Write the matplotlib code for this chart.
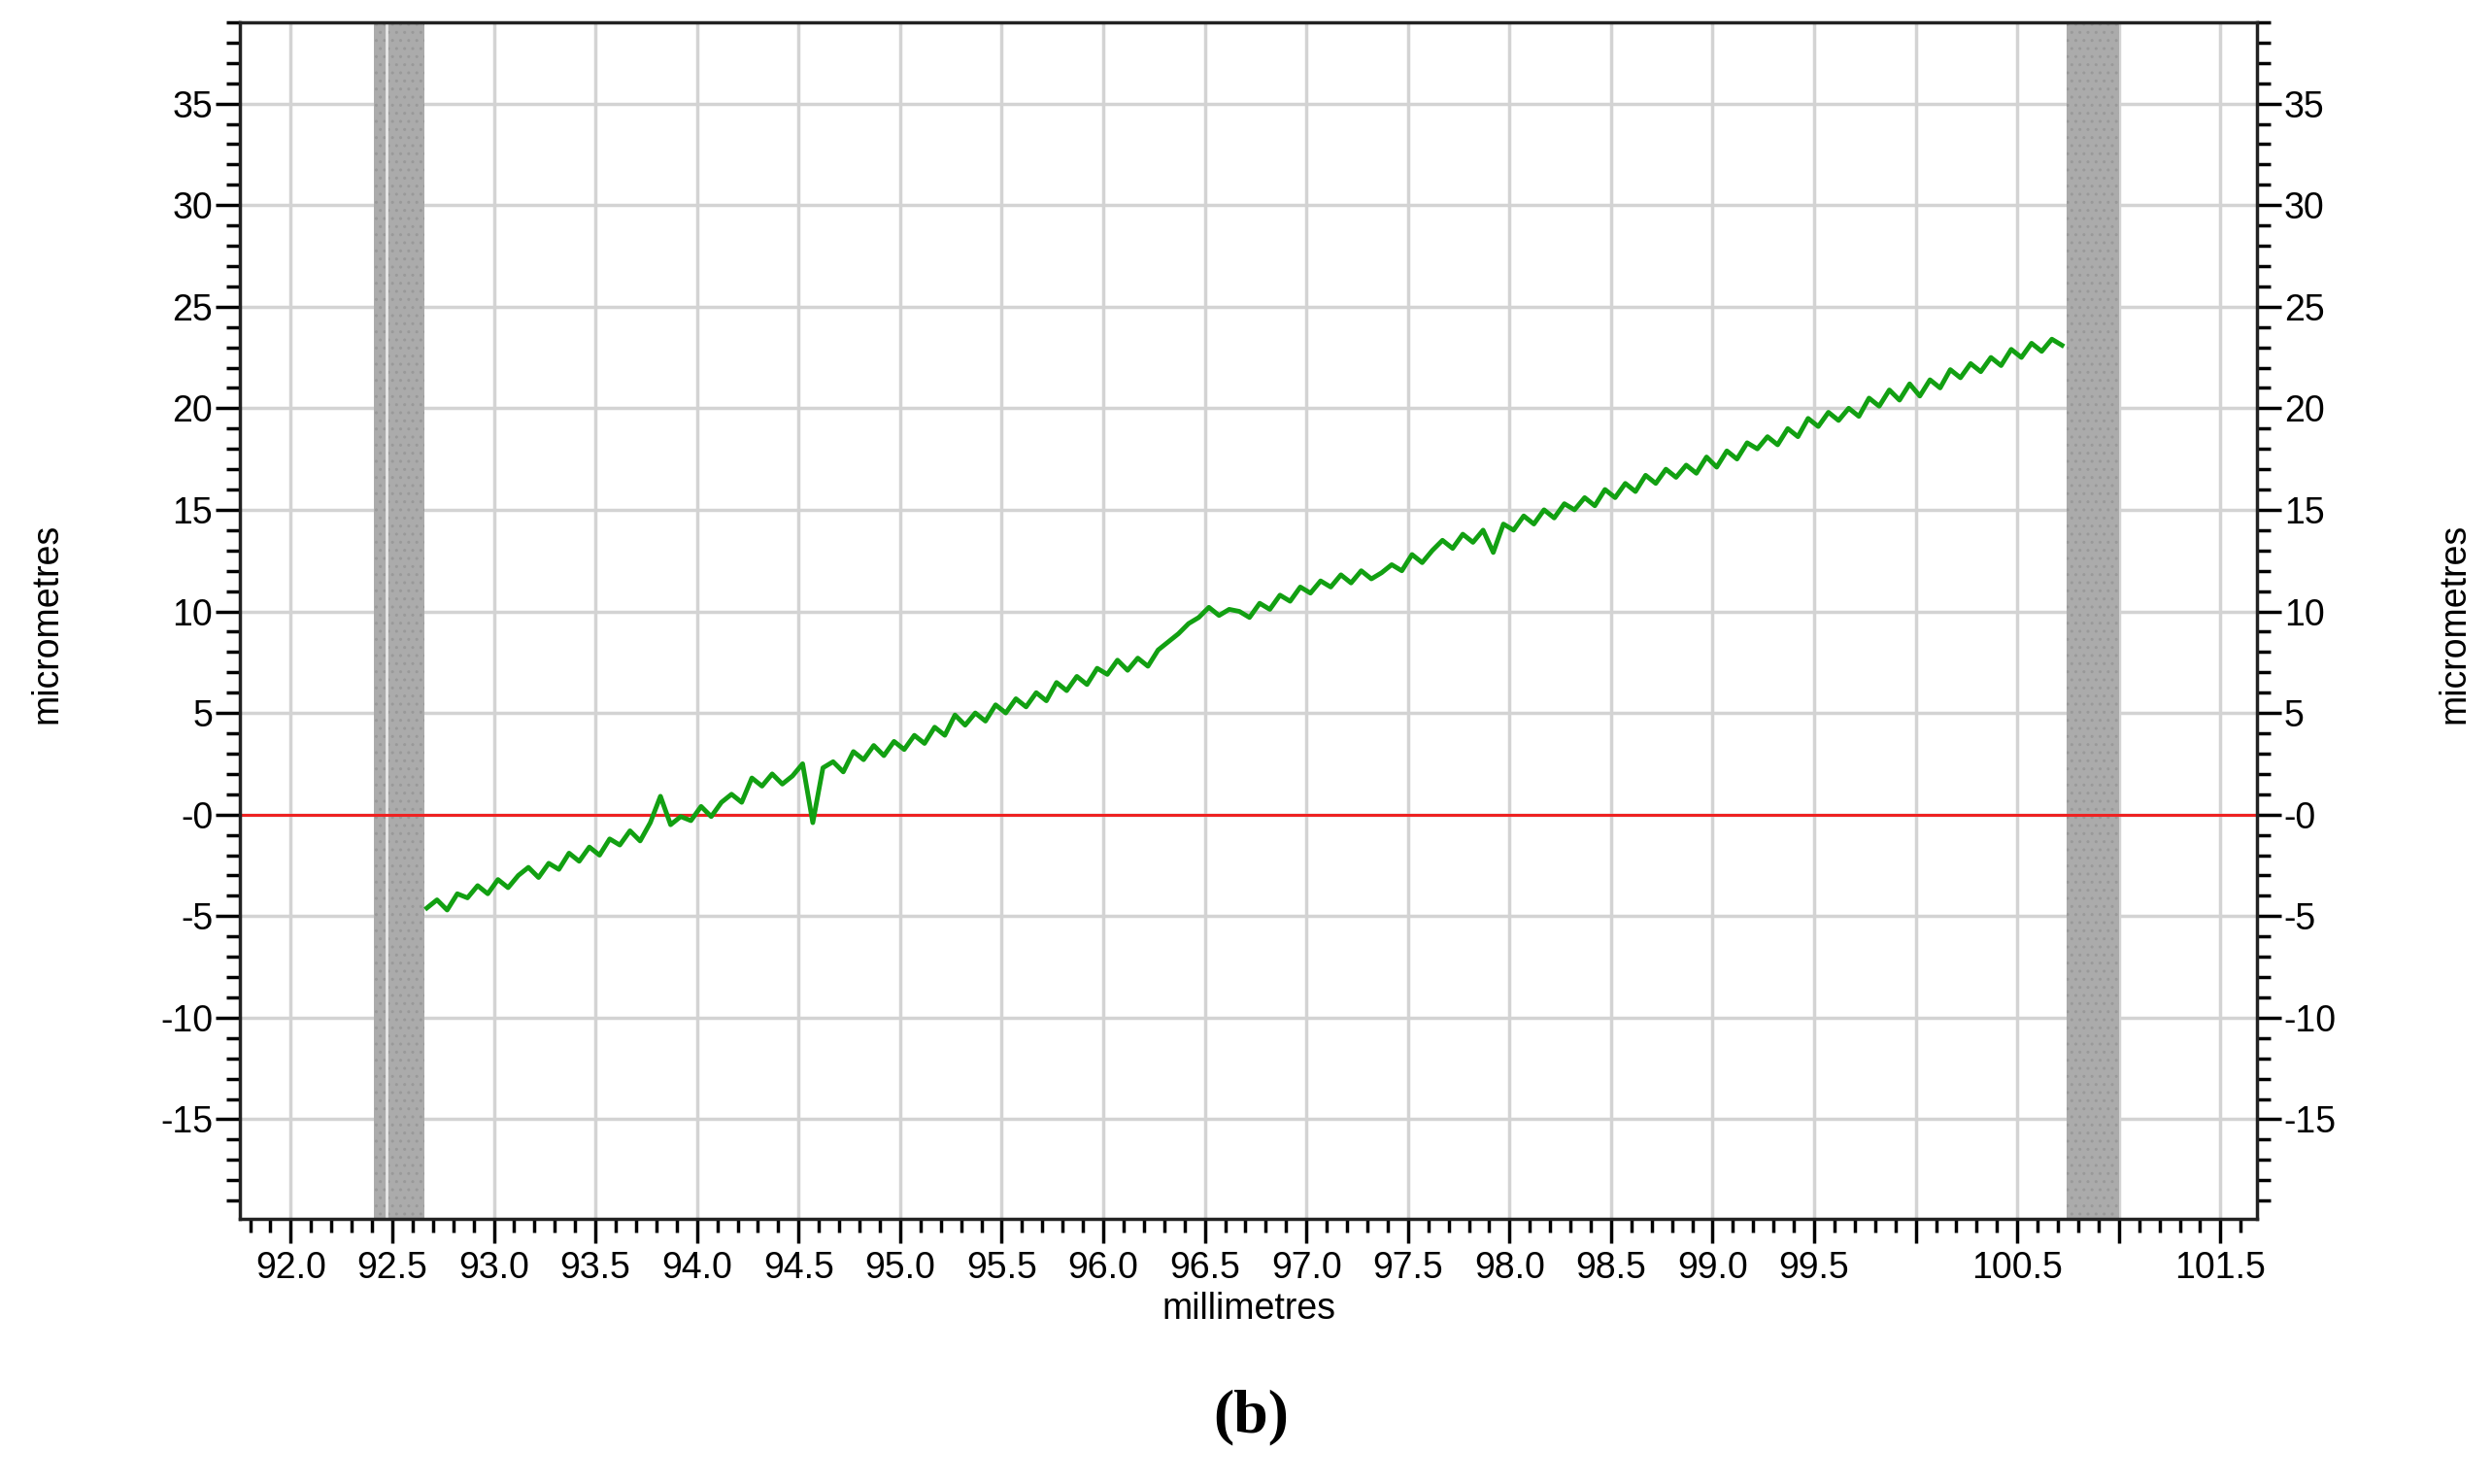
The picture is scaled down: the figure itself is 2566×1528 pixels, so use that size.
import numpy as np
import matplotlib
matplotlib.use("Agg")
import matplotlib.pyplot as plt
from matplotlib.ticker import FixedLocator, FixedFormatter, MultipleLocator

plt.rcParams['font.family'] = ['Liberation Sans', 'DejaVu Sans']

x_start = 92.67
x_step = 0.05
y_vals = [
    -4.6,-4.2,-4.7,-3.9,-4.1,-3.5,-3.9,-3.2,-3.6,-3.0,
    -2.6,-3.1,-2.4,-2.7,-1.9,-2.3,-1.6,-2.0,-1.2,-1.5,
    -0.8,-1.3,-0.4,0.9,-0.5,-0.1,-0.3,0.4,-0.1,0.6,
    1.0,0.6,1.8,1.4,2.0,1.5,1.9,2.5,-0.4,2.3,
    2.6,2.1,3.1,2.7,3.4,2.9,3.6,3.2,3.9,3.5,
    4.3,3.9,4.9,4.4,5.0,4.6,5.4,5.0,5.7,5.3,
    6.0,5.6,6.5,6.1,6.8,6.4,7.2,6.9,7.6,7.1,
    7.7,7.3,8.1,8.5,8.9,9.4,9.7,10.2,9.8,10.1,
    10.0,9.7,10.4,10.1,10.8,10.5,11.2,10.9,11.5,11.2,
    11.8,11.4,12.0,11.6,11.9,12.3,12.0,12.8,12.4,13.0,
    13.5,13.1,13.8,13.4,14.0,12.9,14.3,14.0,14.7,14.3,
    15.0,14.6,15.3,15.0,15.6,15.2,16.0,15.6,16.3,15.9,
    16.7,16.3,17.0,16.6,17.2,16.8,17.6,17.1,17.9,17.5,
    18.3,18.0,18.6,18.2,19.0,18.6,19.5,19.1,19.8,19.4,
    20.0,19.6,20.5,20.1,20.9,20.4,21.2,20.6,21.4,21.0,
    21.9,21.5,22.2,21.8,22.5,22.1,22.9,22.5,23.2,22.8,
    23.4,23.1,
]
x_vals = x_start + x_step * np.arange(len(y_vals))

bands = [(92.41, 92.66), (100.745, 101.0)]
x_ticks = [92.0 + 0.5 * i for i in range(20)]
x_labels = ["%.1f" % v for v in x_ticks]
x_labels[16] = ""   # 100.0 not labelled
x_labels[18] = ""   # 101.0 not labelled
y_ticks = [-15, -10, -5, 0, 5, 10, 15, 20, 25, 30, 35]
y_labels = ["-15", "-10", "-5", "-0", "5", "10", "15", "20", "25", "30", "35"]

fig = plt.figure(figsize=(25.66, 15.28), dpi=100)
ax = fig.add_axes([0.0963, 0.1787, 0.8094, 0.8063])
ax.set_xlim(91.75, 101.68)
ax.set_ylim(-19.9, 39.0)
ax.set_axisbelow(True)

ax.grid(True, color='#d3d3d3', linewidth=2.5, zorder=0)
for a, b in bands:
    ax.axvspan(a, b, facecolor='#ababab', edgecolor='#999999', hatch='..', linewidth=0, zorder=1)
ax.axvline(92.47, color='#e8e8e8', linewidth=2, zorder=1.5)
ax.axhline(0, color='#ee2222', linewidth=2.2, zorder=2)
ax.plot(x_vals, y_vals, color='#12a012', linewidth=3.5, zorder=3)

ax.xaxis.set_major_locator(FixedLocator(x_ticks))
ax.xaxis.set_major_formatter(FixedFormatter(x_labels))
ax.xaxis.set_minor_locator(MultipleLocator(0.1))
ax.yaxis.set_major_locator(FixedLocator(y_ticks))
ax.yaxis.set_major_formatter(FixedFormatter(y_labels))
ax.yaxis.set_minor_locator(MultipleLocator(1))

ax.tick_params(axis='both', which='major', direction='out', length=18, width=2.5,
               labelsize=27, pad=6)
ax.tick_params(axis='both', which='minor', direction='out', length=10, width=2.5)
ax.tick_params(axis='y', which='both', left=True, right=True, labelleft=True, labelright=True)
ax.tick_params(axis='y', which='major', pad=2)
for s in ax.spines.values():
    s.set_linewidth(2.5)
    s.set_color('#222222')

ax.set_xlabel('millimetres', fontsize=27, labelpad=4)
fig.text(0.019, 0.58, 'micrometres', rotation=90, fontsize=27, ha='center', va='center')
fig.text(0.985, 0.58, 'micrometres', rotation=90, fontsize=27, ha='center', va='center')
fig.text(0.502, 0.045, '(b)', fontsize=46, fontweight='bold', family='Liberation Serif',
         ha='center', va='center')

fig.savefig('out.png', dpi=100)
